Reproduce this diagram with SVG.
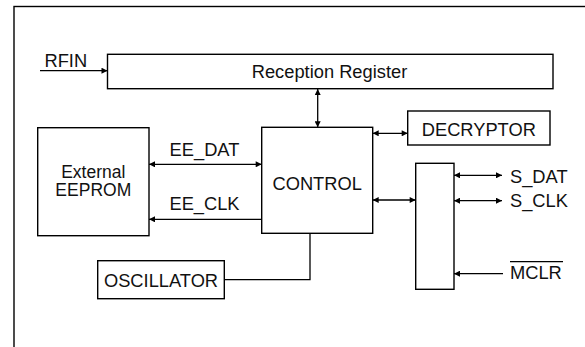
<svg xmlns="http://www.w3.org/2000/svg" width="585" height="347" viewBox="0 0 585 347">
<defs>
<style>
.box{fill:#fff;stroke:#000;stroke-width:1.4}
.ln{fill:none;stroke:#000;stroke-width:1.3}
text{font-family:"Liberation Sans",Arial,sans-serif;font-size:18.3px;fill:#111}
.c{text-anchor:middle}
.s{font-size:17.5px}
</style>
<marker id="ah" viewBox="0 0 10 10" refX="10" refY="5" markerWidth="8" markerHeight="6" markerUnits="userSpaceOnUse" orient="auto-start-reverse">
<path d="M0,0 L10,5 L0,10 z" fill="#000"/>
</marker>
</defs>
<rect x="14" y="6.5" width="580" height="350" fill="#fff" stroke="#000" stroke-width="1.4"/>
<g id="connectors">
<line class="ln" x1="40" y1="70.7" x2="107.5" y2="70.7" marker-end="url(#ah)"/>
<line class="ln" x1="317.7" y1="89" x2="317.7" y2="127.3" marker-start="url(#ah)" marker-end="url(#ah)"/>
<line class="ln" x1="149" y1="164.3" x2="261.7" y2="164.3" marker-start="url(#ah)" marker-end="url(#ah)"/>
<line class="ln" x1="261.7" y1="219.3" x2="149" y2="219.3" marker-end="url(#ah)"/>
<line class="ln" x1="372.7" y1="133.3" x2="407.7" y2="133.3" marker-start="url(#ah)" marker-end="url(#ah)"/>
<line class="ln" x1="372.7" y1="200" x2="415.7" y2="200" marker-start="url(#ah)" marker-end="url(#ah)"/>
<polyline class="ln" points="224.3,279.7 310,279.7 310,233.3"/>
<line class="ln" x1="454" y1="175.3" x2="502" y2="175.3" marker-start="url(#ah)" marker-end="url(#ah)"/>
<line class="ln" x1="454" y1="200.7" x2="502" y2="200.7" marker-start="url(#ah)" marker-end="url(#ah)"/>
<line class="ln" x1="503" y1="273.7" x2="454" y2="273.7" marker-end="url(#ah)"/>
</g>
<g id="rfin"><text x="44.5" y="66.5">RFIN</text></g>
<g id="reception">
<rect class="box" x="107.5" y="54.3" width="445.5" height="34.4"/>
<text class="c" x="329.5" y="77.5">Reception Register</text>
</g>
<g id="eeprom">
<rect class="box" x="37.7" y="127.7" width="111.3" height="108"/>
<text class="c s" x="93.3" y="177.8">External</text>
<text class="c s" x="93.3" y="196">EEPROM</text>
</g>
<g id="control">
<rect class="box" x="261.7" y="127.3" width="111" height="106"/>
<text class="c" x="317.2" y="189.5">CONTROL</text>
</g>
<g id="decryptor">
<rect class="box" x="407.7" y="111" width="142.3" height="34"/>
<text class="c" x="478.8" y="136">DECRYPTOR</text>
</g>
<g id="oscillator">
<rect class="box" x="97.7" y="260.7" width="126.6" height="38"/>
<text class="c" x="161" y="286.5">OSCILLATOR</text>
</g>
<g id="port">
<rect class="box" x="415.7" y="163.3" width="38.3" height="126"/>
</g>
<g id="labels">
<text class="c" x="204.5" y="155.7">EE_DAT</text>
<text class="c" x="204.5" y="209.5">EE_CLK</text>
<text x="510" y="182.5">S_DAT</text>
<text x="510" y="206.7">S_CLK</text>
<text x="510" y="279.3">MCLR</text>
<line x1="510" y1="261.7" x2="563" y2="261.7" stroke="#000" stroke-width="1.3"/>
</g>
</svg>
